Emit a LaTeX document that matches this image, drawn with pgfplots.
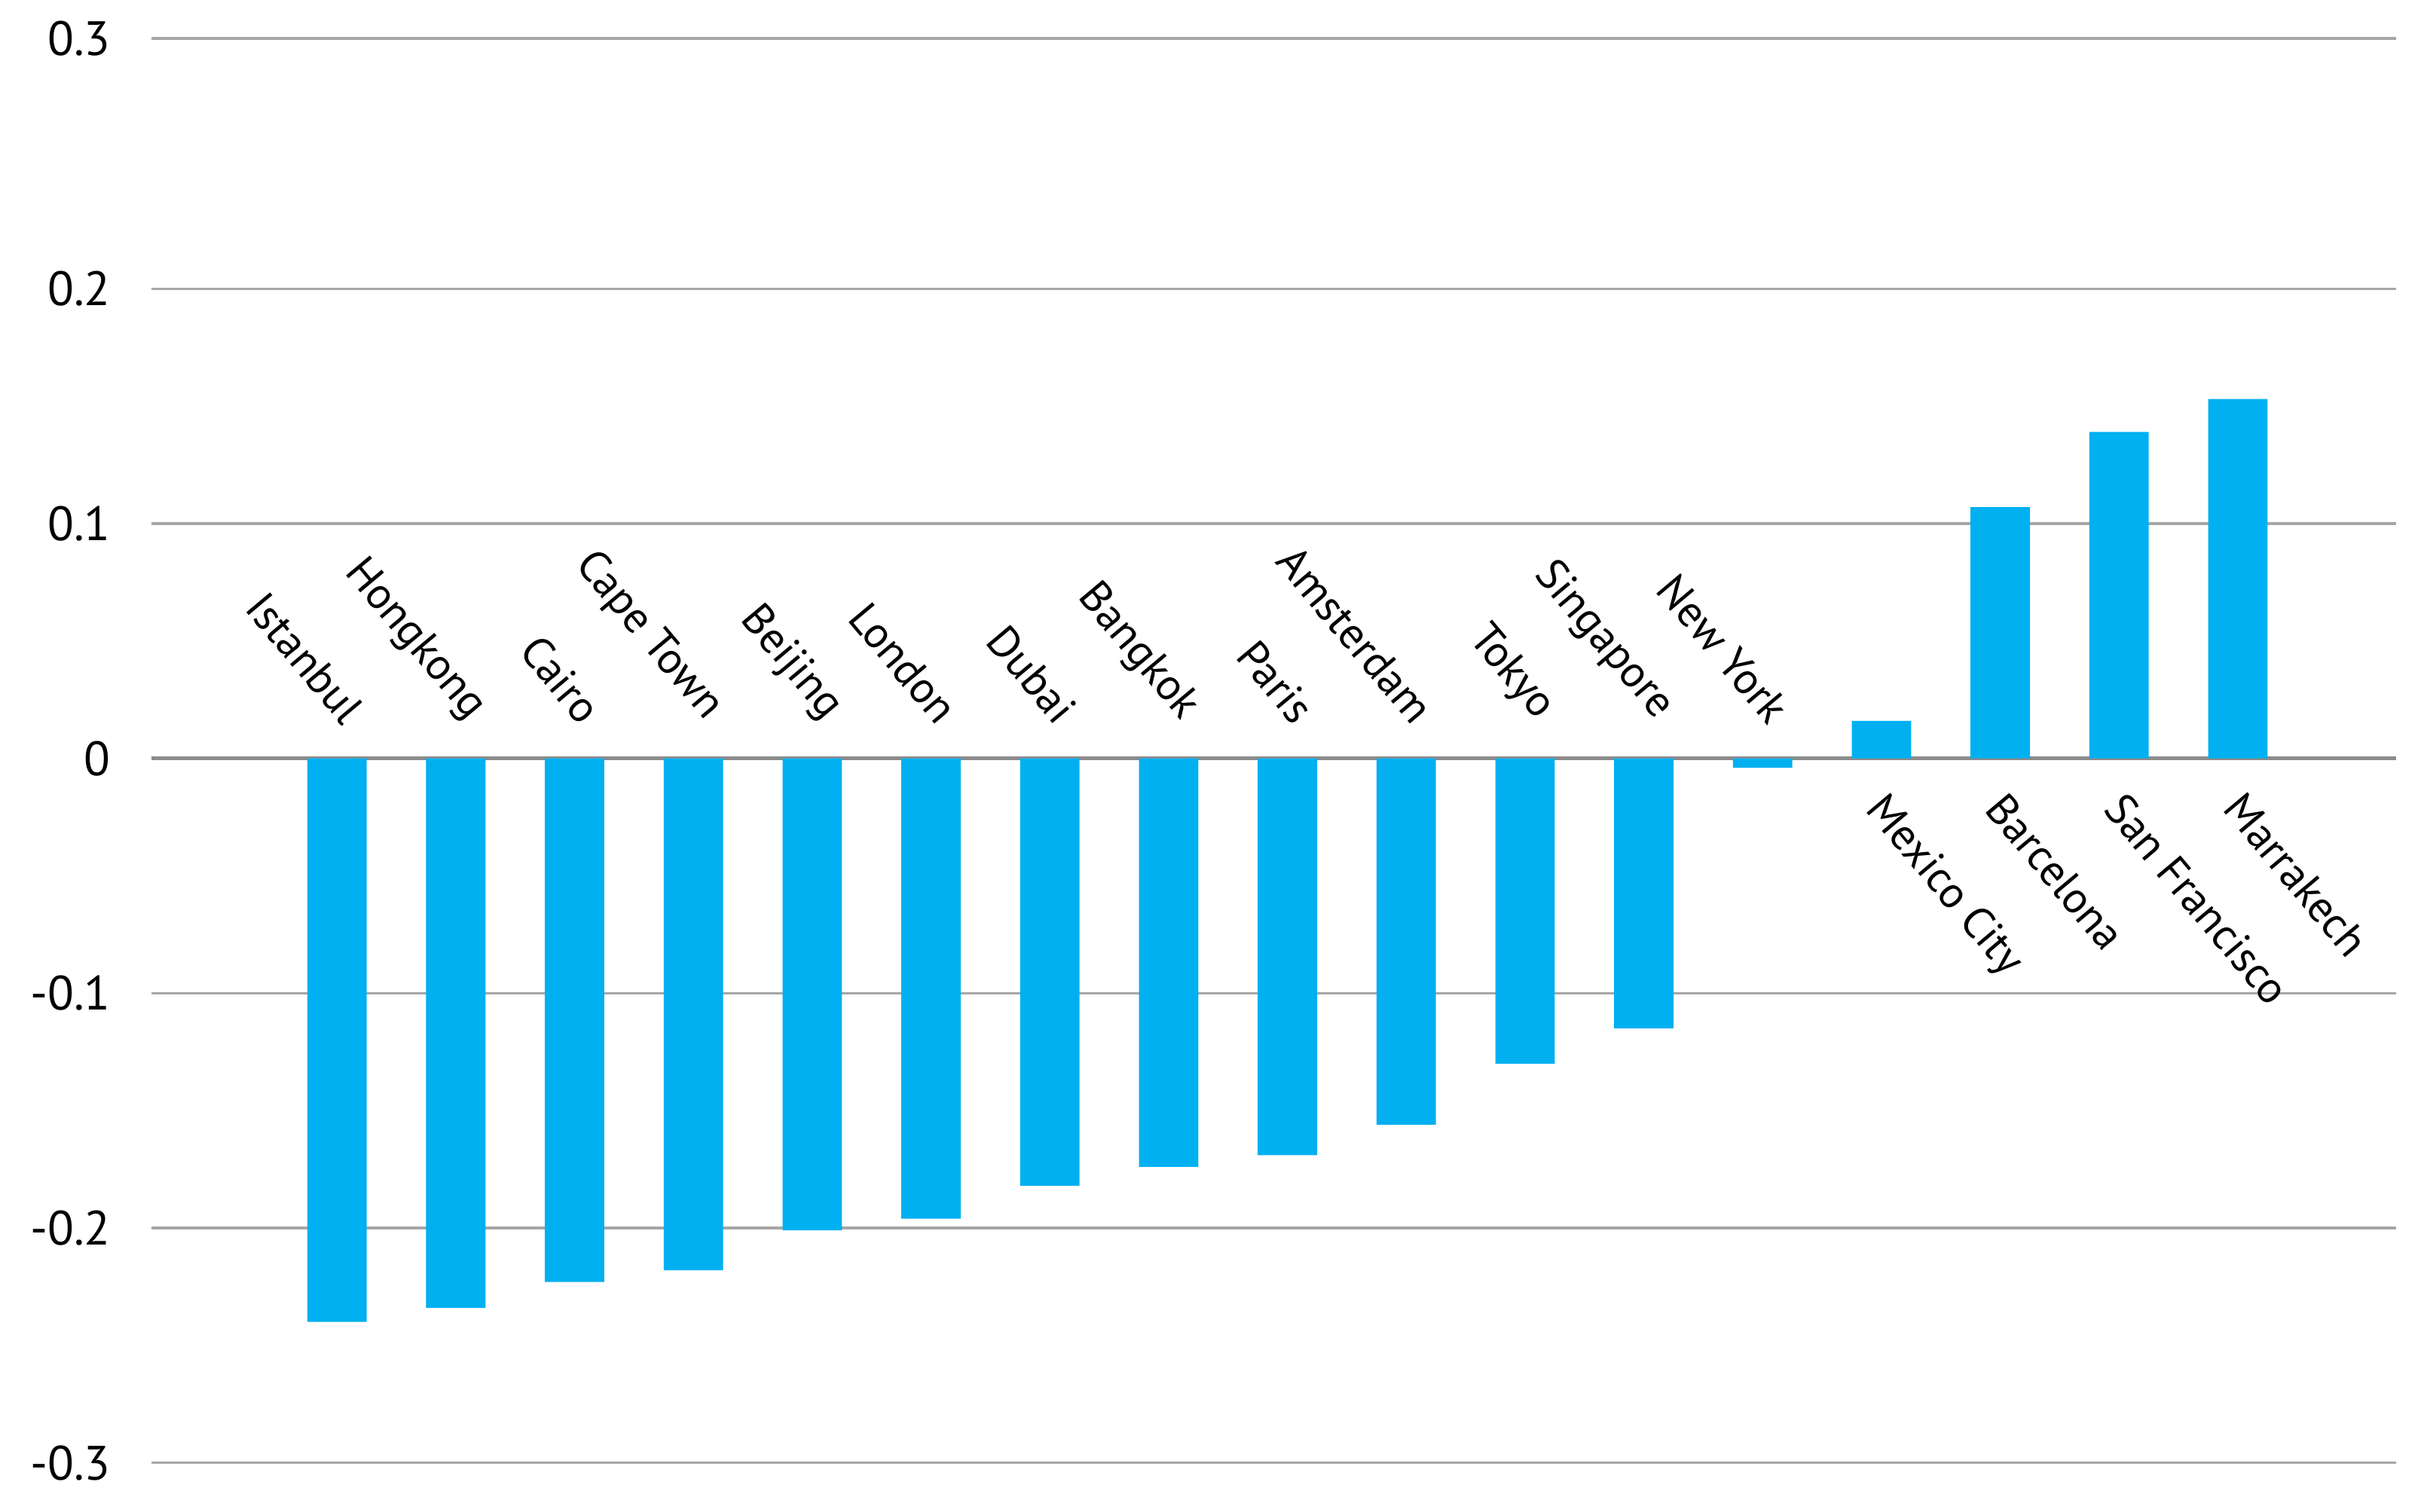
\documentclass[border=0pt]{standalone}
\usepackage{fontspec}
\setmainfont{PT Sans}
\usepackage{pgfplots}
\usepackage{pgfplotstable}
\pgfplotsset{compat=1.18}
\definecolor{barblue}{HTML}{00B0F0}
\definecolor{gridgray}{HTML}{A6A6A6}
\definecolor{zerogray}{HTML}{8C8C8C}
\pgfplotstableread[col sep=comma]{
x,val,name
0,-0.240,Istanbul
1,-0.234,Hongkong
2,-0.223,Cairo
3,-0.218,Cape Town
4,-0.201,Beijing
5,-0.196,London
6,-0.182,Dubai
7,-0.174,Bangkok
8,-0.169,Paris
9,-0.156,Amsterdam
10,-0.130,Tokyo
11,-0.115,Singapore
12,-0.004,New York
13,0.016,Mexico City
14,0.107,Barcelona
15,0.139,San Francisco
16,0.153,Marrakech
}\datatable
\begin{document}
\begin{tikzpicture}
\begin{axis}[
  name=ax,
  scale only axis,
  width=446.9pt, height=283.7pt,
  xmin=-1.56, xmax=17.33,
  ymin=-0.3, ymax=0.3066,
  axis line style={draw=none},
  major tick length=0pt,
  xtick=\empty,
  ytick={-0.3,-0.2,-0.1,0,0.1,0.2,0.3066},
  yticklabels={-0.3,-0.2,-0.1,0,0.1,0.2,0.3},
  yticklabel style={anchor=east, inner sep=0pt, xshift=-8pt, font=\fontsize{9.6}{11}\selectfont},
  ymajorgrids,
  grid style={gridgray, line width=0.5pt},
  extra y ticks={0},
  extra y tick labels={},
  extra y tick style={grid style={zerogray, line width=0.8pt}},
  clip=false,
]
\addplot[ybar, bar width=0.5, fill=barblue, draw=none] table[x=x, y=val] {\datatable};
\addplot[draw=none, mark=none, restrict x to domain=0:12,
  nodes near coords, point meta=explicit symbolic,
  every node near coord/.style={xshift=1pt, yshift=6pt, anchor=south east, rotate=-50, inner sep=0pt, font=\fontsize{8.8}{10}\selectfont, text=black}]
  table[x=x, y expr=0, meta=name] {\datatable};
\addplot[draw=none, mark=none, restrict x to domain=13:16,
  nodes near coords, point meta=explicit symbolic,
  every node near coord/.style={xshift=1.5pt, yshift=-6pt, anchor=north west, rotate=-50, inner sep=0pt, font=\fontsize{8.8}{10}\selectfont, text=black}]
  table[x=x, y expr=0, meta=name] {\datatable};
\end{axis}
\pgfresetboundingbox
\path ([shift={(-30.2pt,-9.75pt)}]ax.south west) rectangle ([shift={(6.2pt,7.65pt)}]ax.north east);
\end{tikzpicture}
\end{document}
